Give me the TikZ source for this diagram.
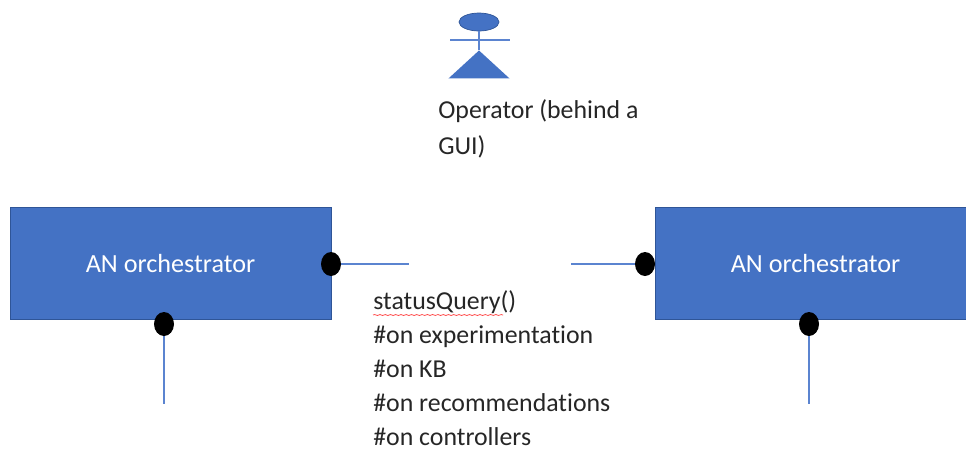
\documentclass[tikz,border=0pt]{standalone}
\usepackage{fontspec}
\setmainfont{Carlito}[Ligatures=NoCommon]
\usetikzlibrary{calc,positioning,shapes.geometric,decorations.pathmorphing}
\definecolor{boxblue}{HTML}{4472C4}
\definecolor{boxedge}{HTML}{2F5597}
\definecolor{wireblue}{HTML}{5B84D0}
\tikzset{
  orch/.style={rectangle,draw=boxedge,fill=boxblue,text=white,minimum height=2.24cm,font=\fontsize{14.9}{17}\selectfont},
  dot/.style={ellipse,fill=black,inner sep=0pt,minimum width=0.4cm,minimum height=0.48cm},
  wire/.style={draw=wireblue,line width=0.7pt},
  label/.style={inner sep=0pt,align=left,text=black!85}
}
\begin{document}
\begin{tikzpicture}[x=0.02cm,y=-0.02cm]
  \useasboundingbox (0,0) rectangle (966,451);
  \node[orch,minimum width=6.42cm] (orch1) at (170.5,263) {AN orchestrator};
  \node[orch,minimum width=6.22cm] (orch2) at (810.5,263) {\hspace{0.2cm}AN orchestrator};
  \node[dot] (dot1) at (331,264) {};
  \node[dot] (dot2) at (164,324) {};
  \node[dot] (dot3) at (645,264) {};
  \node[dot] (dot4) at (809,324) {};
  \coordinate (end1) at (409,264);
  \coordinate (end2) at (164,404);
  \coordinate (end3) at (571,264);
  \coordinate (end4) at (809,404);
  \path[wire] (dot1) edge (end1)
              (dot2) edge (end2)
              (dot3) edge (end3)
              (dot4) edge (end4);
  % operator
  \node[ellipse,fill=boxblue,draw=boxedge,inner sep=0pt,minimum width=0.8cm,minimum height=0.36cm] (head) at (479,22) {};
  \node[isosceles triangle,isosceles triangle apex angle=95,shape border rotate=90,fill=boxblue,inner sep=0pt,minimum height=0.56cm,anchor=apex] (body) at (479,50) {};
  \coordinate (armL) at (450,40);
  \coordinate (armR) at (510,40);
  \draw[wire] (head) -- (body.apex);
  \draw[wire] (armL) -- (armR);
  \node[label,anchor=north west,font=\fontsize{14.7}{20.4}\selectfont] (operator) at (438,99) {Operator (behind a\\GUI)};
  % query
  \node[label,anchor=north west,font=\fontsize{14.7}{19.4}\selectfont] (query) at (373,290) {statusQuery()\\\#on experimentation\\\#on KB\\\#on recommendations\\\#on controllers};
  \coordinate (squiggle1) at (373,315);
  \coordinate (squiggle2) at (503,315);
  \draw[red!80,line width=0.4pt,decorate,decoration={snake,amplitude=0.25pt,segment length=3pt}] (squiggle1) -- (squiggle2);
\end{tikzpicture}
\end{document}
